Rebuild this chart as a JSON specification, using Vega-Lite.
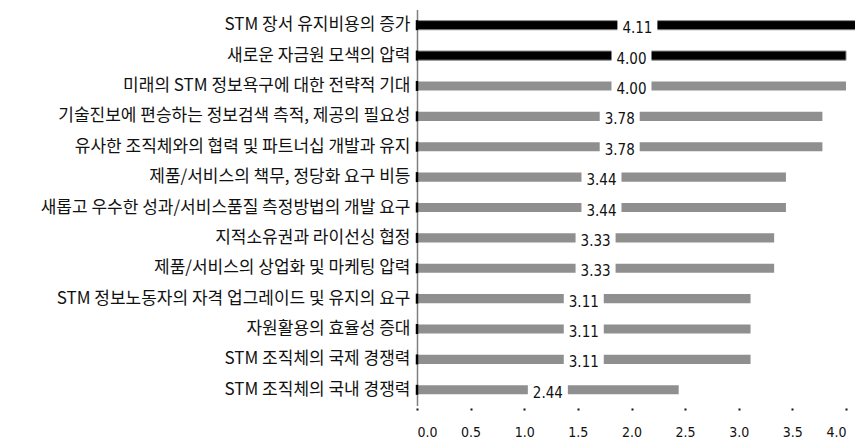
{
  "$schema": "https://vega.github.io/schema/vega-lite/v6.json",
  "autosize": {"type": "none"},
  "padding": {"left": 417, "top": 10, "right": 9, "bottom": 42},
  "width": 429,
  "height": 395,
  "background": "white",
  "config": {"view": {"stroke": null}},
  "data": {
    "values": [
      {"item": "STM 장서 유지비용의 증가", "value": 4.11},
      {"item": "새로운 자금원 모색의 압력", "value": 4.00},
      {"item": "미래의 STM 정보욕구에 대한 전략적 기대", "value": 4.00},
      {"item": "기술진보에 편승하는 정보검색 측적, 제공의 필요성", "value": 3.78},
      {"item": "유사한 조직체와의 협력 및 파트너십 개발과 유지", "value": 3.78},
      {"item": "제품/서비스의 책무, 정당화 요구 비등", "value": 3.44},
      {"item": "새롭고 우수한 성과/서비스품질 측정방법의 개발 요구", "value": 3.44},
      {"item": "지적소유권과 라이선싱 협정", "value": 3.33},
      {"item": "제품/서비스의 상업화 및 마케팅 압력", "value": 3.33},
      {"item": "STM 정보노동자의 자격 업그레이드 및 유지의 요구", "value": 3.11},
      {"item": "자원활용의 효율성 증대", "value": 3.11},
      {"item": "STM 조직체의 국제 경쟁력", "value": 3.11},
      {"item": "STM 조직체의 국내 경쟁력", "value": 2.44}
    ]
  },
  "transform": [
    {"calculate": "datum.value / 2", "as": "mid"},
    {"calculate": "indexof(['STM 장서 유지비용의 증가', '새로운 자금원 모색의 압력'], datum.item) >= 0", "as": "top"}
  ],
  "encoding": {
    "y": {
      "field": "item",
      "type": "nominal",
      "sort": null,
      "scale": {"paddingInner": 0.7, "paddingOuter": 0.35},
      "axis": {
        "title": null,
        "ticks": false,
        "labelPadding": 7,
        "labelFont": "Noto Sans CJK KR",
        "labelFontSize": 17,
        "labelColor": "#111111",
        "labelLimit": 420,
        "domainColor": "#000000",
        "domainDash": [1, 1],
        "domainWidth": 1.5
      }
    }
  },
  "layer": [
    {
      "mark": {"type": "bar", "strokeWidth": 1},
      "encoding": {
        "x": {
          "field": "value",
          "type": "quantitative",
          "scale": {"domain": [0, 4], "nice": false},
          "axis": {
            "title": null,
            "values": [0, 0.5, 1, 1.5, 2, 2.5, 3, 3.5, 4],
            "format": ".1f",
            "grid": false,
            "domain": false,
            "offset": 3,
            "tickSize": 2,
            "tickWidth": 2,
            "tickColor": "#111111",
            "labelPadding": 15,
            "labelFont": "DejaVu Sans Condensed, DejaVu Sans",
            "labelFontSize": 14,
            "labelColor": "#111111"
          }
        },
        "color": {
          "condition": {"test": "datum.top", "value": "#000000"},
          "value": "#8f8f8f"
        },
        "stroke": {
          "condition": {"test": "datum.top", "value": "#8a8a8a"},
          "value": null
        }
      }
    },
    {
      "mark": {"type": "tick", "color": "#000000", "thickness": 2.5, "size": 10, "opacity": 1},
      "encoding": {"x": {"datum": 0, "type": "quantitative"}}
    },
    {
      "mark": {"type": "tick", "color": "#ffffff", "thickness": 40, "size": 16, "opacity": 1},
      "encoding": {"x": {"field": "mid", "type": "quantitative"}}
    },
    {
      "mark": {
        "type": "text",
        "font": "DejaVu Sans Condensed, DejaVu Sans",
        "fontSize": 15,
        "color": "#111111",
        "baseline": "middle",
        "dy": 3
      },
      "encoding": {
        "x": {"field": "mid", "type": "quantitative"},
        "text": {"field": "value", "type": "quantitative", "format": ".2f"}
      }
    }
  ]
}
